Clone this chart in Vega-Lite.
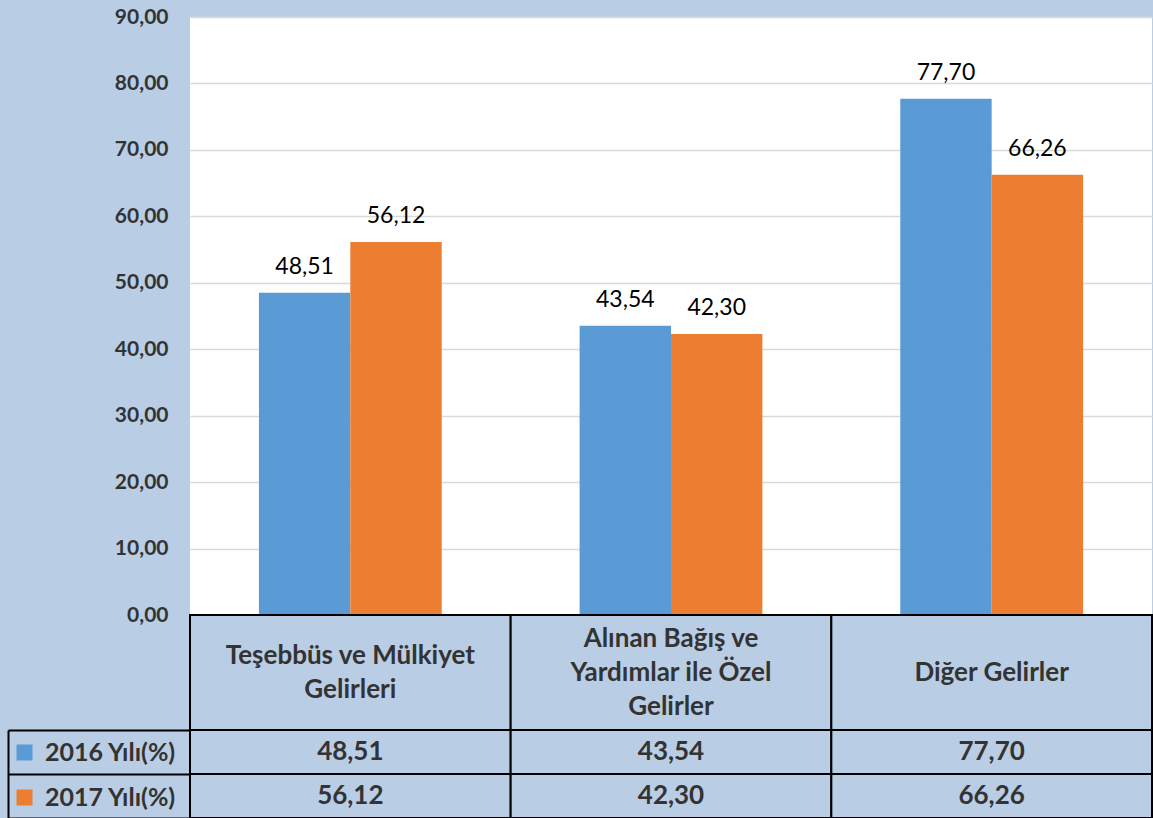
{
  "$schema": "https://vega.github.io/schema/vega-lite/v6.json",
  "background": "#b9cde5",
  "padding": {"left": 7, "top": 6, "right": 0, "bottom": 0},
  "spacing": 0,
  "bounds": "flush",
  "config": {
    "locale": {"number": {"decimal": ",", "thousands": ".", "grouping": [3], "currency": ["", " TL"]}},
    "font": "Lato",
    "view": {"stroke": null}
  },
  "datasets": {
    "veri": [
      {"kategori": "Teşebbüs ve Mülkiyet\nGelirleri", "yil": "2016 Yılı(%)", "deger": 48.51},
      {"kategori": "Teşebbüs ve Mülkiyet\nGelirleri", "yil": "2017 Yılı(%)", "deger": 56.12},
      {"kategori": "Alınan Bağış ve\nYardımlar ile Özel\nGelirler", "yil": "2016 Yılı(%)", "deger": 43.54},
      {"kategori": "Alınan Bağış ve\nYardımlar ile Özel\nGelirler", "yil": "2017 Yılı(%)", "deger": 42.30},
      {"kategori": "Diğer Gelirler", "yil": "2016 Yılı(%)", "deger": 77.70},
      {"kategori": "Diğer Gelirler", "yil": "2017 Yılı(%)", "deger": 66.26}
    ]
  },
  "vconcat": [
    {
      "width": 962,
      "height": 598,
      "view": {"fill": "white", "stroke": null},
      "data": {"name": "veri"},
      "encoding": {
        "x": {"field": "kategori", "type": "nominal", "sort": null, "axis": null,
              "scale": {"paddingInner": 0.43, "paddingOuter": 0.215}},
        "xOffset": {"field": "yil", "type": "nominal", "sort": null},
        "y": {"field": "deger", "type": "quantitative",
              "scale": {"domain": [0, 90], "nice": false},
              "axis": {"title": null, "values": [0, 10, 20, 30, 40, 50, 60, 70, 80, 90], "format": ".2f",
                       "domain": false, "ticks": false, "labelPadding": 22,
                       "labelFont": "Lato", "labelFontSize": 21, "labelFontWeight": "bold", "labelColor": "#333333",
                       "gridColor": "#d9d9d9", "gridWidth": 1.5}}
      },
      "layer": [
        {
          "mark": {"type": "bar"},
          "encoding": {
            "color": {"field": "yil", "type": "nominal", "sort": null,
                      "scale": {"range": ["#5b9bd5", "#ed7d31"]},
                      "legend": {"title": null, "orient": "none", "legendX": -178, "legendY": 723,
                                 "padding": 0, "rowPadding": 19, "symbolType": "square", "symbolSize": 256,
                                 "symbolStrokeWidth": 0, "labelOffset": 8, "labelFont": "Lato", "labelFontSize": 25,
                                 "labelFontWeight": "bold", "labelColor": "#333333", "labelLimit": 300}}
          }
        },
        {
          "mark": {"type": "text", "baseline": "alphabetic", "dy": -19, "font": "Lato", "fontSize": 23, "color": "#000000"},
          "encoding": {
            "text": {"field": "deger", "type": "quantitative", "format": ".2f"}
          }
        }
      ]
    },
    {
      "width": 962,
      "height": 115,
      "data": {"name": "veri"},
      "transform": [{"filter": "datum.yil === '2016 Yılı(%)'"}],
      "encoding": {
        "x": {"field": "kategori", "type": "nominal", "sort": null, "axis": null,
              "scale": {"paddingInner": 0, "paddingOuter": 0}}
      },
      "layer": [
        {"mark": {"type": "rect", "fill": "#b9cde5", "stroke": "#000000", "strokeWidth": 2}},
        {
          "mark": {"type": "text", "lineBreak": "\n", "lineHeight": 34, "baseline": "middle", "font": "Lato",
                   "fontSize": 26, "fontWeight": "bold", "color": "#333333",
                   "dy": {"expr": "-(length(split(datum.kategori, '\\n')) - 1) * 17"}},
          "encoding": {"text": {"field": "kategori", "type": "nominal"}}
        }
      ]
    },
    {
      "width": 962,
      "height": 88,
      "data": {"name": "veri"},
      "encoding": {
        "x": {"field": "kategori", "type": "nominal", "sort": null, "axis": null,
              "scale": {"paddingInner": 0, "paddingOuter": 0}},
        "y": {"field": "yil", "type": "nominal", "sort": null,
              "scale": {"paddingInner": 0, "paddingOuter": 0},
              "axis": {"title": null, "labels": false, "offset": 182, "domain": true, "domainColor": "#000000",
                       "domainWidth": 2, "tickBand": "extent", "tickSize": -182, "tickColor": "#000000", "tickWidth": 2}}
      },
      "layer": [
        {"mark": {"type": "rect", "fill": "#b9cde5", "stroke": "#000000", "strokeWidth": 2}},
        {
          "mark": {"type": "text", "baseline": "middle", "font": "Lato", "fontSize": 26, "fontWeight": "bold", "color": "#333333"},
          "encoding": {"text": {"field": "deger", "type": "quantitative", "format": ".2f"}}
        }
      ]
    }
  ]
}
